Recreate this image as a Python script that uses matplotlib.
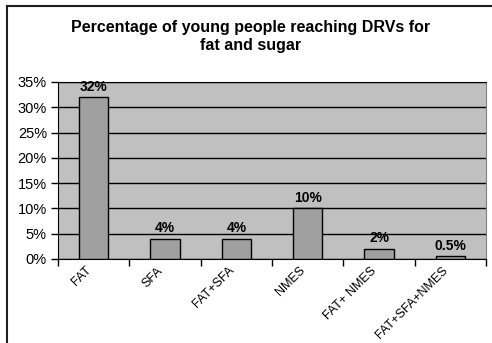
import numpy as np
import matplotlib
matplotlib.use('agg')
import matplotlib.pyplot as plt
import matplotlib.transforms as mtransforms
from matplotlib.lines import Line2D

plt.rcParams['font.family'] = ['Liberation Sans', 'DejaVu Sans']

# data
categories = ['FAT', 'SFA', 'FAT+SFA', 'NMES', 'FAT+ NMES', 'FAT+SFA+NMES']
values = [32, 4, 4, 10, 2, 0.5]
value_labels = ['32%', '4%', '4%', '10%', '2%', '0.5%']
yticks = [0, 5, 10, 15, 20, 25, 30, 35]

fig = plt.figure(figsize=(4.92, 3.43), dpi=100)
ax = fig.add_axes([0.118, 0.245, 0.870, 0.516])
ax.set_facecolor('#c0c0c0')

x = np.arange(len(categories))
ax.bar(x, values, width=0.41, color='#a0a0a0', edgecolor='black', linewidth=1.0, zorder=3)

for xi, v, lab in zip(x, values, value_labels):
    ax.annotate(lab, (xi, v), xytext=(0, 2.5), textcoords='offset points',
                ha='center', va='bottom', fontsize=10, fontweight='bold', zorder=4)

ax.set_xlim(-0.5, len(categories) - 0.5)
ax.set_ylim(0, 35)
ax.set_yticks(yticks)
ax.set_yticklabels(['%d%%' % t for t in yticks], fontsize=10.5)
ax.yaxis.grid(True, color='black', linewidth=1.0, zorder=1)
ax.set_axisbelow(True)

# category ticks sit between the bars
ax.set_xticks(np.arange(len(categories) + 1) - 0.5)
ax.set_xticklabels([])
ax.set_xticks(x, minor=True)
ax.set_xticklabels(categories, minor=True, rotation=45, ha='right', va='top',
                   rotation_mode='anchor', fontsize=9)
ax.tick_params(axis='x', which='minor', length=0, pad=4)
ax.tick_params(axis='x', which='major', length=5, width=1, color='black')
ax.tick_params(axis='y', length=5, width=1, color='black', pad=3)

# nudge the slanted names a little left of the bar centres
shift = mtransforms.ScaledTranslation(-6 / 72, 0, fig.dpi_scale_trans)
for lbl in ax.get_xticklabels(minor=True):
    lbl.set_transform(lbl.get_transform() + shift)

ax.spines['left'].set_color('black')
ax.spines['bottom'].set_color('black')
ax.spines['top'].set_color('black')
ax.spines['right'].set_color('#808080')

fig.text(0.51, 0.894, 'Percentage of young people reaching DRVs for\nfat and sugar',
         ha='center', va='center', fontsize=11.5, fontweight='bold', linespacing=1.2)

# outer chart frame
fig.add_artist(Line2D([0.0142, 0.0142], [0.0, 0.9825], color='#202020', linewidth=1.5))
fig.add_artist(Line2D([0.0142, 1.0], [0.9825, 0.9825], color='#202020', linewidth=1.5))

plt.savefig('out.png', dpi=100)
plt.close('all')
